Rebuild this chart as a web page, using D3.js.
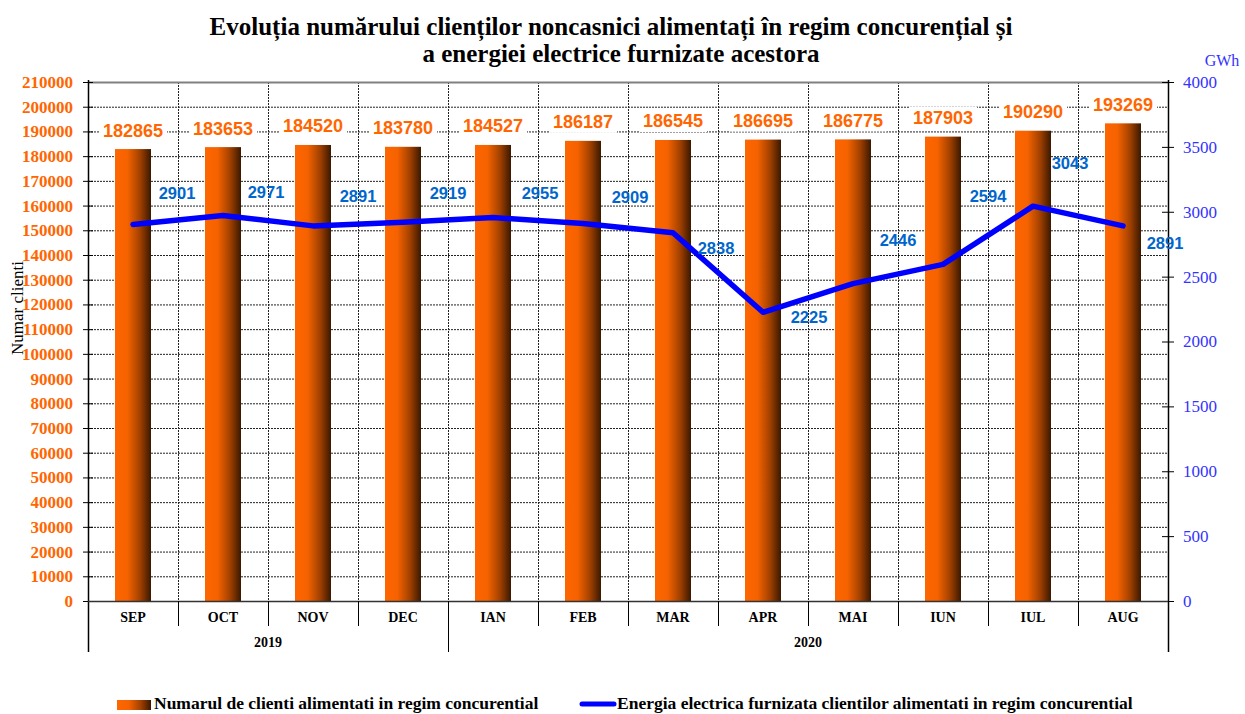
<!DOCTYPE html>
<html>
<head>
<meta charset="utf-8">
<script src="https://cdn.jsdelivr.net/npm/d3@7/dist/d3.min.js"></script>
<style>
  body { margin: 0; background: #fff; }
  svg { display: block; }
</style>
</head>
<body>
<svg id="chart"></svg>
<script>
// date
const luni = ["SEP", "OCT", "NOV", "DEC", "IAN", "FEB", "MAR", "APR", "MAI", "IUN", "IUL", "AUG"];
const ani = [{an: "2019", de: 0, pana: 4}, {an: "2020", de: 4, pana: 12}];
const clienti = [182865, 183653, 184520, 183780, 184527, 186187, 186545, 186695, 186775, 187903, 190290, 193269];
const energie = [2901, 2971, 2891, 2919, 2955, 2909, 2838, 2225, 2446, 2594, 3043, 2891];
const ticksStanga = d3.range(0, 210001, 10000);
const ticksDreapta = d3.range(0, 4001, 500);

// pozitia etichetelor albastre fata de punct (dx, dy)
const offsetEtichete = [[44, -32], [43, -23], [45, -30], [45, -29], [47, -25], [47, -27],
                        [43, 15], [46, 5], [45, -44], [45, -68], [37, -43], [42, 17]];

const width = 1245, height = 714;
const margin = {top: 82, right: 77, bottom: 113, left: 88};
const serif = "'Liberation Serif', 'Times New Roman', serif";
const sans = "'Liberation Sans', Arial, sans-serif";

const svg = d3.select("#chart").attr("width", width).attr("height", height);

const x = d3.scaleBand().domain(luni).range([margin.left, width - margin.right]);
const y = d3.scaleLinear().domain([0, 210000]).range([height - margin.bottom, margin.top]);
const y2 = d3.scaleLinear().domain([0, 4000]).range([height - margin.bottom, margin.top]);

const x0 = margin.left, x1 = width - margin.right;
const yb = height - margin.bottom;

// gradient bare
const defs = svg.append("defs");
const grad = defs.append("linearGradient").attr("id", "bara").attr("x1", "0").attr("x2", "1");
grad.append("stop").attr("offset", "0").attr("stop-color", "#ff6600");
grad.append("stop").attr("offset", "0.35").attr("stop-color", "#f56200");
grad.append("stop").attr("offset", "0.7").attr("stop-color", "#a04000");
grad.append("stop").attr("offset", "1").attr("stop-color", "#3a1800");

// titlu
const titlu = svg.append("text")
  .attr("x", 611).attr("text-anchor", "middle")
  .style("font-family", serif)
  .style("font-weight", "bold").style("font-size", "25px");
titlu.append("tspan").attr("x", 611).attr("y", 35)
  .text("Evoluția numărului clienților noncasnici alimentați în regim concurențial și");
titlu.append("tspan").attr("x", 621).attr("y", 62)
  .text("a energiei electrice furnizate acestora");

// grila
const grila = svg.append("g");
grila.selectAll("line.h")
  .data(ticksStanga.filter(d => d > 0 && d < 210000))
  .join("line")
  .attr("x1", x0).attr("x2", x1)
  .attr("y1", d => y(d) + 0.5).attr("y2", d => y(d) + 0.5)
  .attr("stroke", "#222").attr("stroke-dasharray", "2,1").attr("stroke-width", 1);
grila.selectAll("line.v")
  .data(luni.slice(1))
  .join("line")
  .attr("x1", d => x(d) + 0.5).attr("x2", d => x(d) + 0.5)
  .attr("y1", margin.top).attr("y2", yb)
  .attr("stroke", "#222").attr("stroke-dasharray", "2,1").attr("stroke-width", 1);

// bara sus
svg.append("line").attr("x1", x0).attr("x2", x1).attr("y1", margin.top + 0.5).attr("y2", margin.top + 0.5)
  .attr("stroke", "#808080").attr("stroke-width", 2);

// bare
const latBara = x.bandwidth() * 0.4;
svg.append("g").selectAll("rect")
  .data(clienti)
  .join("rect")
  .attr("x", (d, i) => x(luni[i]) + (x.bandwidth() - latBara) / 2)
  .attr("y", d => y(d))
  .attr("width", latBara)
  .attr("height", d => yb - y(d))
  .attr("fill", "url(#bara)");

// etichete bare
const etBare = svg.append("g").selectAll("g")
  .data(clienti)
  .join("g")
  .attr("transform", (d, i) => `translate(${x(luni[i]) + x.bandwidth() / 2},${y(d) - 19})`);
etBare.append("rect")
  .attr("x", -34).attr("y", -11).attr("width", 68).attr("height", 22).attr("fill", "#fff");
etBare.append("text")
  .attr("text-anchor", "middle").attr("dy", "0.36em")
  .style("font-family", sans)
  .style("font-weight", "bold").style("font-size", "18px")
  .attr("fill", "#ff6600")
  .text(d => d);

// linie energie
const linie = d3.line()
  .x((d, i) => x(luni[i]) + x.bandwidth() / 2)
  .y(d => y2(d));
svg.append("path")
  .datum(energie)
  .attr("d", linie)
  .attr("fill", "none").attr("stroke", "#0000ff").attr("stroke-width", 5.5)
  .attr("stroke-linecap", "round").attr("stroke-linejoin", "round");

// axe
const axaStanga = svg.append("g")
  .attr("transform", `translate(${x0},0)`)
  .call(d3.axisLeft(y).tickValues(ticksStanga).tickSize(5).tickFormat(d3.format("d")));
axaStanga.select(".domain").remove();
axaStanga.selectAll(".tick line").attr("x1", -5).attr("x2", 5).attr("stroke", "#000");
axaStanga.selectAll(".tick text")
  .attr("x", -15)
  .style("font-family", serif)
  .style("font-weight", "bold").style("font-size", "17px")
  .attr("fill", "#ff6600");
svg.append("line").attr("x1", x0 + 0.5).attr("x2", x0 + 0.5).attr("y1", margin.top - 2).attr("y2", yb + 51)
  .attr("stroke", "#000").attr("stroke-width", 1.5);

const axaDreapta = svg.append("g")
  .attr("transform", `translate(${x1},0)`)
  .call(d3.axisRight(y2).tickValues(ticksDreapta).tickSize(5).tickFormat(d3.format("d")));
axaDreapta.select(".domain").remove();
axaDreapta.selectAll(".tick line").attr("x1", -6).attr("x2", 6).attr("stroke", "#000");
axaDreapta.selectAll(".tick text")
  .attr("x", 15)
  .style("font-family", serif)
  .style("font-size", "17px")
  .attr("fill", "#3333ff");
svg.append("line").attr("x1", x1 + 0.5).attr("x2", x1 + 0.5).attr("y1", margin.top - 2).attr("y2", yb + 51)
  .attr("stroke", "#000").attr("stroke-width", 1.5);

svg.append("text")
  .attr("x", 1222).attr("y", 66).attr("text-anchor", "middle")
  .style("font-family", serif)
  .style("font-size", "16px").attr("fill", "#3333ff")
  .text("GWh");

// etichete linie
const etLinie = svg.append("g").selectAll("g")
  .data(energie)
  .join("g")
  .attr("transform", (d, i) => `translate(${x(luni[i]) + x.bandwidth() / 2 + offsetEtichete[i][0]},${y2(d) + offsetEtichete[i][1]})`);
etLinie.append("text")
  .attr("text-anchor", "middle").attr("dy", "0.36em")
  .style("font-family", sans)
  .style("font-weight", "bold").style("font-size", "16.5px")
  .attr("fill", "#0066cc")
  .text(d => d);

// axa x
svg.append("line").attr("x1", x0).attr("x2", x1).attr("y1", yb + 0.5).attr("y2", yb + 0.5)
  .attr("stroke", "#333").attr("stroke-width", 1.5);
const axaX = svg.append("g");
axaX.selectAll("line")
  .data(luni.slice(1))
  .join("line")
  .attr("x1", d => x(d) + 0.5).attr("x2", d => x(d) + 0.5)
  .attr("y1", yb).attr("y2", yb + 25)
  .attr("stroke", "#000");
axaX.selectAll("text")
  .data(luni)
  .join("text")
  .attr("x", d => x(d) + x.bandwidth() / 2).attr("y", yb + 21)
  .attr("text-anchor", "middle")
  .style("font-family", serif)
  .style("font-weight", "bold").style("font-size", "14px")
  .text(d => d);

const axaAni = svg.append("g");
axaAni.selectAll("line")
  .data(ani.slice(1))
  .join("line")
  .attr("x1", d => x(luni[d.de]) + 0.5).attr("x2", d => x(luni[d.de]) + 0.5)
  .attr("y1", yb).attr("y2", yb + 51)
  .attr("stroke", "#000");
axaAni.selectAll("text")
  .data(ani)
  .join("text")
  .attr("x", d => (x(luni[d.de]) + x(luni[d.pana - 1]) + x.bandwidth()) / 2)
  .attr("y", yb + 46)
  .attr("text-anchor", "middle")
  .style("font-family", serif)
  .style("font-weight", "bold").style("font-size", "14px")
  .text(d => d.an);

// titlu axa y
svg.append("text")
  .attr("transform", "translate(23,308) rotate(-90)")
  .attr("text-anchor", "middle")
  .style("font-family", serif)
  .style("font-size", "17px")
  .text("Numar clienti");

// legenda
const leg = svg.append("g");
leg.append("rect").attr("x", 117).attr("y", 700).attr("width", 34).attr("height", 10).attr("fill", "url(#bara)");
leg.append("text").attr("x", 154).attr("y", 709)
  .style("font-family", serif)
  .style("font-weight", "bold").style("font-size", "17.5px")
  .text("Numarul de clienti alimentati in regim concurential");
leg.append("line").attr("x1", 582).attr("x2", 614).attr("y1", 704).attr("y2", 704)
  .attr("stroke", "#0000ff").attr("stroke-width", 5).attr("stroke-linecap", "round");
leg.append("text").attr("x", 617).attr("y", 709)
  .style("font-family", serif)
  .style("font-weight", "bold").style("font-size", "17.5px")
  .text("Energia electrica furnizata clientilor alimentati in regim concurential");
</script>
</body>
</html>
